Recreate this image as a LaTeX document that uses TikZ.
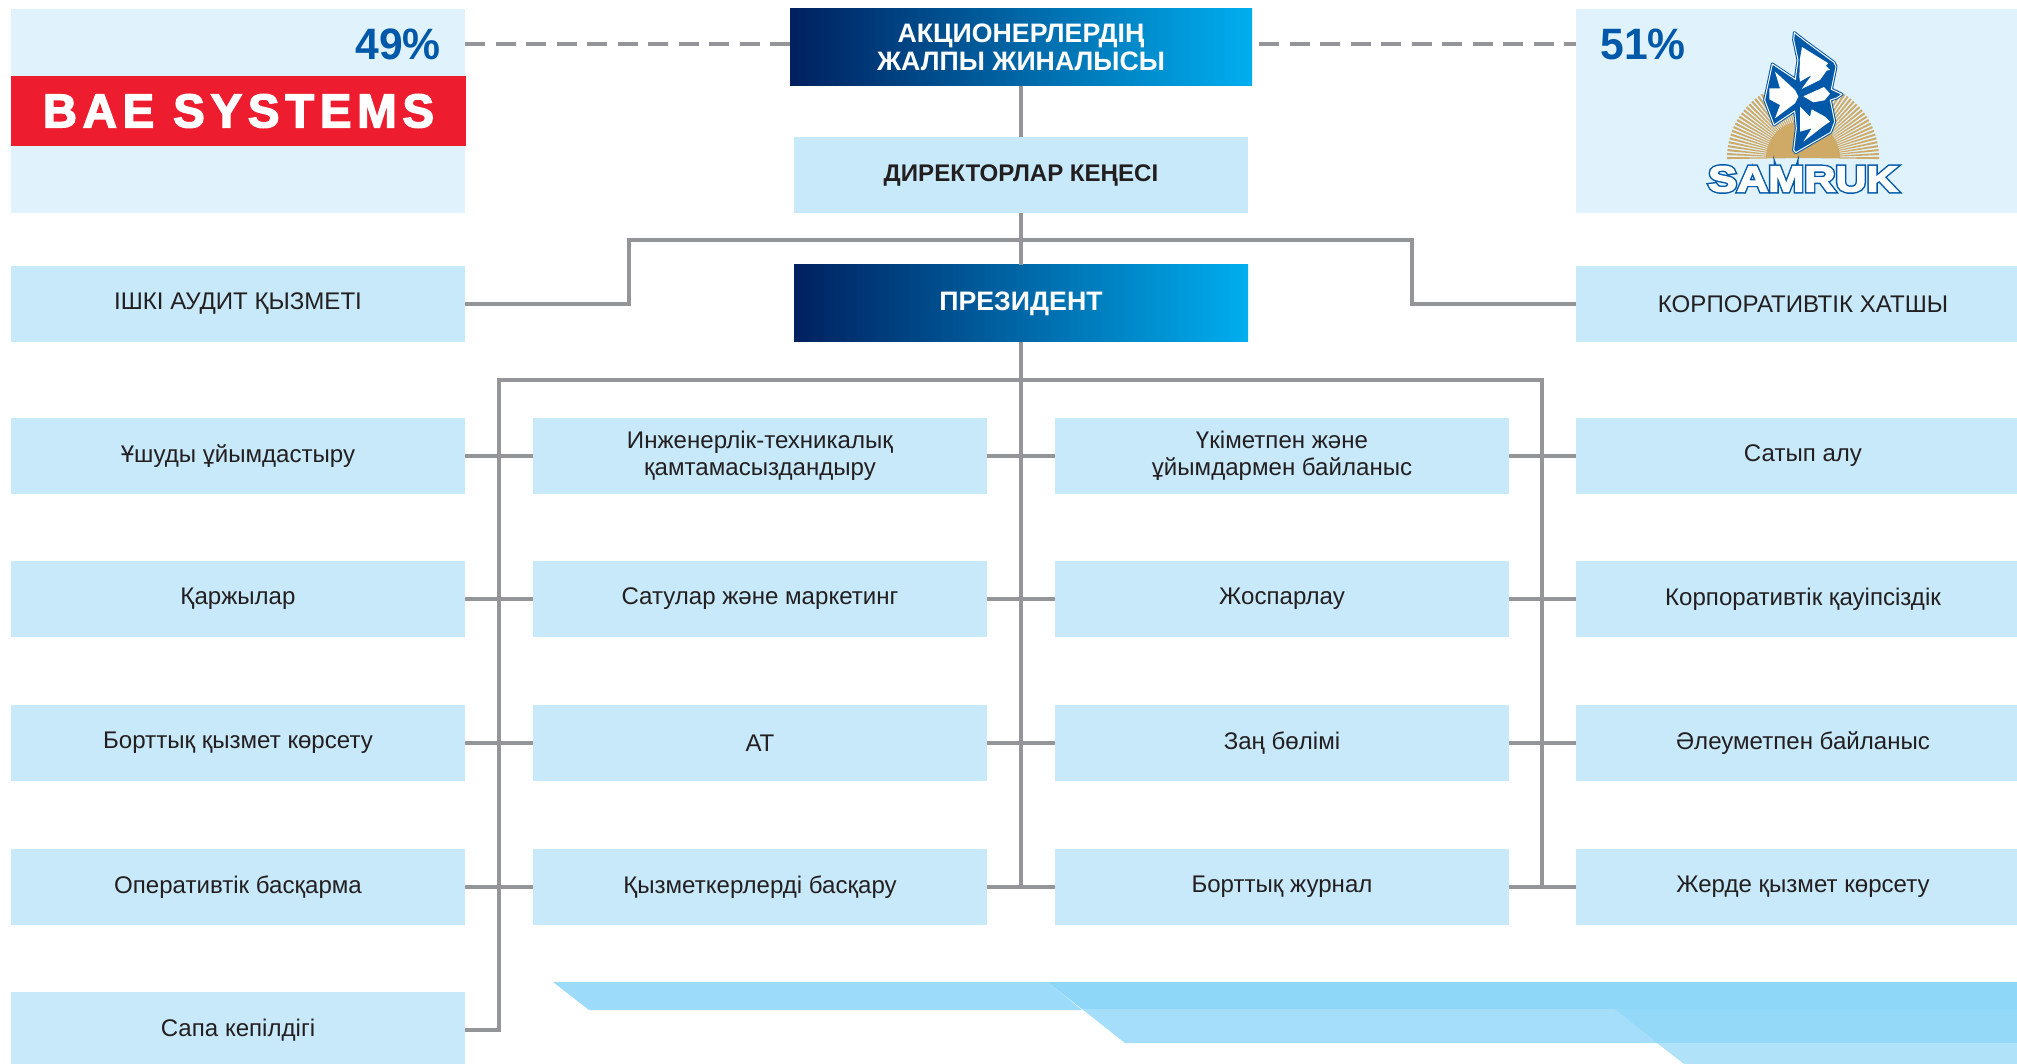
\documentclass[tikz,border=0pt]{standalone}
\usepackage{fontspec}
\setmainfont{Liberation Sans}
\usepackage{tikz}
\usetikzlibrary{positioning}
\definecolor{boxblue}{HTML}{C7E9FA}
\definecolor{topblue}{HTML}{E0F3FC}
\definecolor{linegray}{HTML}{939598}
\definecolor{navyend}{HTML}{00205F}
\definecolor{cyanend}{HTML}{00AEEF}
\definecolor{pctblue}{HTML}{0058A8}
\definecolor{baered}{HTML}{ED1C2E}
\definecolor{sungold}{HTML}{CFAA66}
\definecolor{textdark}{HTML}{231F20}
\definecolor{banda}{HTML}{9CDBFA}
\definecolor{bandb}{HTML}{8FD7F9}
\definecolor{bandc}{HTML}{A5DEFA}
\definecolor{bandd}{HTML}{95D9F9}
\definecolor{bande}{HTML}{B0E2FA}

\begin{document}
\begin{tikzpicture}[x=0.2mm,y=-0.2mm,
        panel/.style={rectangle,fill=boxblue,text=textdark,inner sep=0pt,minimum width=9.08cm,minimum height=1.52cm,align=center,font=\fontsize{13.7}{15.3}\selectfont},
        owner/.style={rectangle,fill=topblue,inner sep=0pt,minimum width=9.08cm,minimum height=4.08cm},
        head/.style={rectangle,left color=navyend,right color=cyanend,text=white,inner sep=0pt,minimum height=1.54cm,align=center,font=\fontsize{15.2}{16}\selectfont\bfseries},
        percent/.style={text=pctblue,inner sep=0pt,font=\fontsize{25}{25}\selectfont\bfseries\addfontfeature{FakeStretch=0.97}},
        link/.style={draw=linegray,line width=0.8mm},
        dashlink/.style={draw=linegray,line width=0.8mm,dash pattern=on 4mm off 2.1mm}]
        \useasboundingbox (0,0) rectangle (2017,1064);
        \clip (0,0) rectangle (2017,1064);

        % bands at the bottom
        \fill[banda] (553,982) -- (1047,982) -- (1082,1010) -- (589,1010) -- cycle;
        \fill[bandb] (1047,982) -- (2017,982) -- (2017,1009) -- (1082,1009) -- cycle;
        \fill[bandc] (1082,1009) -- (1614,1009) -- (1657,1043) -- (1125,1043) -- cycle;
        \fill[bandd] (1614,1009) -- (2017,1009) -- (2017,1043) -- (1657,1043) -- cycle;
        \fill[bande] (1657,1043) -- (2017,1043) -- (2017,1064) -- (1684,1064) -- cycle;

        \node[owner] (bae) at (238,111) {};
        \node[owner] (sam) at (1803,111) {};
        \node[head,minimum width=9.24cm] (meeting) at (1021,47.5) {АКЦИОНЕРЛЕРДІҢ\\ЖАЛПЫ ЖИНАЛЫСЫ};
        \node[panel,font=\fontsize{13.7}{15.3}\selectfont\bfseries] (board) at (1021,175) {ДИРЕКТОРЛАР КЕҢЕСІ};
        \node[head,minimum width=9.08cm] (president) at (1021,303.5) {ПРЕЗИДЕНТ};
        \node[panel] (audit) at (238,304) {ІШКІ АУДИТ ҚЫЗМЕТІ};
        \node[panel] (secretary) at (1803,304) {КОРПОРАТИВТІК ХАТШЫ};

        \node[panel] (a1) at (238,456) {Ұшуды ұйымдастыру};
        \node[panel] (a2) at (238,599) {Қаржылар};
        \node[panel] (a3) at (238,743) {Борттық қызмет көрсету};
        \node[panel] (a4) at (238,887) {Оперативтік басқарма};
        \node[panel] (a5) at (238,1030) {Сапа кепілдігі};
        \node[panel] (b1) at (760,456) {Инженерлік-техникалық\\қамтамасыздандыру};
        \node[panel] (b2) at (760,599) {Сатулар және маркетинг};
        \node[panel] (b3) at (760,743) {АТ};
        \node[panel] (b4) at (760,887) {Қызметкерлерді басқару};
        \node[panel] (c1) at (1282,456) {Үкіметпен және\\ұйымдармен байланыс};
        \node[panel] (c2) at (1282,599) {Жоспарлау};
        \node[panel] (c3) at (1282,743) {Заң бөлімі};
        \node[panel] (c4) at (1282,887) {Борттық журнал};
        \node[panel] (d1) at (1803,456) {Сатып алу};
        \node[panel] (d2) at (1803,599) {Корпоративтік қауіпсіздік};
        \node[panel] (d3) at (1803,743) {Әлеуметпен байланыс};
        \node[panel] (d4) at (1803,887) {Жерде қызмет көрсету};

        % logos
        \node[percent] (p49) at (398,44) {49\%};
        \node[percent] (p51) at (1643,44) {51\%};
        \node[rectangle,fill=baered,text=white,inner sep=0pt,minimum width=9.1cm,minimum height=1.41cm,font=\fontsize{27}{27}\selectfont\bfseries] (baelogo) at (238.5,111) {\addfontfeature{LetterSpace=12,FakeBold=3}BAE SYSTEMS};
        \coordinate (sun) at (1803,158);
        \fill[sungold] (1766,158) arc[start angle=180,end angle=360,radius=37] -- cycle;
        \foreach \a in {0,3,...,180}
            \fill[sungold] (sun) -- ([shift={(-\a-0.8:76)}]sun) -- ([shift={(-\a+0.8:76)}]sun) -- cycle;
        \begin{scope}[shift={(1750,25)},scale=0.3333]
            \draw[draw=pctblue,double=white,double distance=0.2mm,line width=0.2mm,fill=pctblue,line join=round] (133,23) -- (165,48) -- (252,112) -- (258,125) -- (244,193) -- (276,208) -- (260,219) -- (241,225) -- (254,290) -- (242,322) -- (137,383) -- (131,375) -- (139,310) -- (134,258) -- (72,300) -- (44,225) -- (67,117) -- (136,163) -- (144,105) -- (131,45) -- cycle;
            \fill[white] (156,66) -- (235,115) -- (227,122) -- (240,135) -- (230,137) -- (210,165) -- (155,192) -- (185,150) -- (150,170) -- (148,155) -- (150,100) -- cycle;
            \fill[white] (160,214) -- (222,186) -- (240,206) -- (224,226) -- (190,232) -- cycle;
            \fill[white] (150,245) -- (180,275) -- (185,253) -- (225,275) -- (240,290) -- (225,300) -- (160,350) -- (185,310) -- (150,320) -- cycle;
            \fill[white] (75,140) -- (135,195) -- (145,215) -- (135,235) -- (75,280) -- (90,240) -- (58,223) -- (58,190) -- (90,190) -- cycle;
        \end{scope}
        \node[inner sep=0pt,font=\fontsize{20.5}{20.5}\selectfont\bfseries] (samlogo) at (1803,179) {\addfontfeature{FakeStretch=1.2}\rlap{\textcolor{pctblue}{\addfontfeature{FakeBold=12}SAMRUK}}\textcolor{white}{\addfontfeature{FakeBold=4}SAMRUK}};

        % connectors
        \coordinate (dash1) at (465,44);
        \coordinate (dash2) at (790,44);
        \coordinate (dash3) at (1259,44);
        \coordinate (dash4) at (1576,44);
        \coordinate (top1) at (629,240);
        \coordinate (top2) at (1412,240);
        \coordinate (bus1) at (499,380);
        \coordinate (bus2) at (1542,380);
        \coordinate (bus4) at (1021,887);
        \coordinate (bus5) at (1542,887);
        \path[dashlink] (dash1) edge (dash2)
                  (dash3) edge (dash4);
        \draw[link] (meeting) -- (board);
        \draw[link] (board) -- (president);
        \draw[link] (audit.east) -| (top1) -- (top2) |- (secretary.west);
        \draw[link] (a5.east) -| (bus1) -- (bus2) -- (bus5);
        \draw[link] (president) -- (bus4);
        \path[link] (a1) edge (b1)
                  (a2) edge (b2)
                  (a3) edge (b3)
                  (a4) edge (b4)
                  (b1) edge (c1)
                  (b2) edge (c2)
                  (b3) edge (c3)
                  (b4) edge (c4)
                  (c1) edge (d1)
                  (c2) edge (d2)
                  (c3) edge (d3)
                  (c4) edge (d4);
    \end{tikzpicture}
\end{document}
